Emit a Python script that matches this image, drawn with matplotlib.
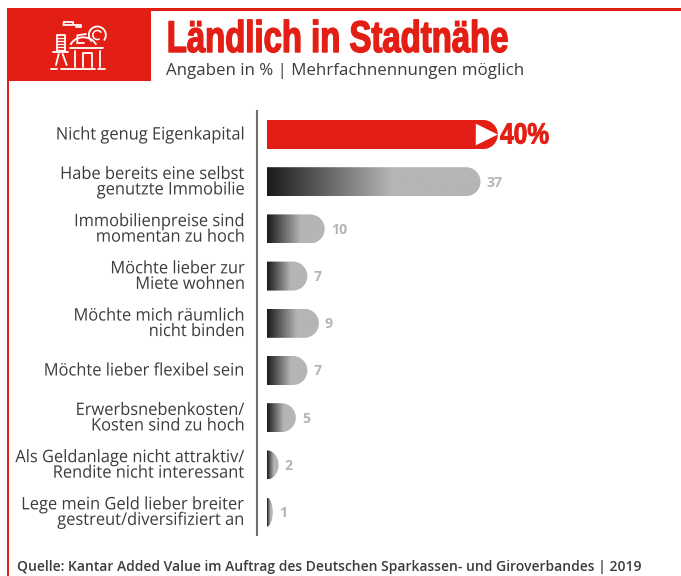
import numpy as np
import matplotlib
matplotlib.use("Agg")
import matplotlib.pyplot as plt
from matplotlib.path import Path
from matplotlib.patches import PathPatch, Rectangle, Polygon, Arc
from matplotlib.patheffects import AbstractPathEffect
from matplotlib.transforms import Affine2D

categories = ["Nicht genug Eigenkapital",
              "Habe bereits eine selbst\ngenutzte Immobilie",
              "Immobilienpreise sind\nmomentan zu hoch",
              "Möchte lieber zur\nMiete wohnen",
              "Möchte mich räumlich\nnicht binden",
              "Möchte lieber flexibel sein",
              "Erwerbsnebenkosten/\nKosten sind zu hoch",
              "Als Geldanlage nicht attraktiv/\nRendite nicht interessant",
              "Lege mein Geld lieber breiter\ngestreut/diversifiziert an"]
values = [40, 37, 10, 7, 9, 7, 5, 2, 1]
title = "Ländlich in Stadtnähe"
subtitle = "Angaben in % | Mehrfachnennungen möglich"
source = "Quelle: Kantar Added Value im Auftrag des Deutschen Sparkassen- und Giroverbandes | 2019"

RED = "#e31e14"
DARK = "#1a1a1a"
GREY = "#b5b6b4"
TXT = "#3c3c3b"
W, H = 681, 576
PX_PER_UNIT = 5.77
ROW = 47.2
Y0 = 134.5
BAR_PX = 29.0
RAD_PX = 14.5


class Squeeze(AbstractPathEffect):
    """Condense real text horizontally about a fixed pixel column, optionally emboldened."""
    def __init__(self, sx, x0, stroke=0.0):
        super().__init__()
        self.sx, self.x0, self.stroke = sx, x0, stroke

    def draw_path(self, renderer, gc, tpath, affine, rgbFace=None):
        t = affine + Affine2D().translate(-self.x0, 0).scale(self.sx, 1).translate(self.x0, 0)
        gc0 = renderer.new_gc()
        gc0.copy_properties(gc)
        if self.stroke:
            gc0.set_linewidth(self.stroke)
            gc0.set_foreground(rgbFace)
        renderer.draw_path(gc0, tpath, t, rgbFace)
        gc0.restore()


fig = plt.figure(figsize=(W / 100, H / 100), dpi=100, facecolor="white")

bg = fig.add_axes([0, 0, 1, 1], zorder=0)
bg.set_xlim(0, W); bg.set_ylim(H, 0); bg.axis("off")
bg.add_patch(Rectangle((6.5, 8), W - 6.5, 2.6, color=RED, lw=0))
bg.add_patch(Rectangle((6.5, 8), 2.6, H - 8, color=RED, lw=0))
bg.add_patch(Rectangle((6.5, 8), 144.5, 73, color=RED, lw=0))
bg.plot([256.5, 256.5], [110, 536], color="#6f6f6e", lw=1.5, solid_capstyle="butt")


def ipt(x, y):
    return 40 + x / 3, 10 + y / 3


icon_lines = [
    [(33, 177), (50, 177)], [(62, 177), (165, 177)], [(175, 177), (195, 177)],
    [(105, 122), (105, 170)], [(180, 122), (180, 170)],
    [(128, 170), (128, 130), (155, 130), (155, 170)],
    [(90, 115), (190, 115)],
    [(50, 125), (50, 75), (75, 75), (75, 125)],
    [(40, 127), (85, 127)],
    [(56, 132), (48, 165)], [(68, 132), (80, 165)],
    [(72, 35), (100, 35), (100, 45), (123, 45), (123, 52), (108, 52)],
    [(72, 35), (70, 45), (95, 45)],
    [(112, 98), (112, 76), (138, 72)],
    [(112, 98), (132, 98)],
]
for ln in icon_lines:
    pts = np.array([ipt(*p) for p in ln])
    bg.plot(pts[:, 0], pts[:, 1], color="white", lw=1.3, solid_capstyle="round", solid_joinstyle="round")
for yy in range(85, 122, 9):
    pts = np.array([ipt(54, yy), ipt(71, yy)])
    bg.plot(pts[:, 0], pts[:, 1], color="white", lw=0.9)
cx, cy = ipt(172, 75)
bg.add_patch(Arc((cx, cy), 17, 17, theta1=130, theta2=400, ec="white", lw=1.3))
bg.add_patch(Arc((cx, cy), 9, 9, theta1=60, theta2=330, ec="white", lw=1.1))
cx, cy = ipt(130, 115)
bg.add_patch(Arc((cx, cy), 27, 22, theta1=195, theta2=345, ec="white", lw=1.3))

NARROW = "Liberation Sans"
bg.text(166.5, 52, title, family=NARROW, weight="bold", fontsize=32, color=RED,
        va="baseline", ha="left", path_effects=[Squeeze(0.74, 167.5, stroke=1.0)])
bg.text(166.5, 71, subtitle, family="Open Sans", fontsize=12.2, color=TXT, va="center", ha="left")
bg.text(17, 567.5, source, family="Open Sans", weight="semibold", fontsize=10.0, color=TXT,
        va="center", ha="left")

left_px = 267
ax_w_px = 400
top_px, bot_px = 110, 536
ax = fig.add_axes([left_px / W, 1 - bot_px / H, ax_w_px / W, (bot_px - top_px) / H], zorder=1)
ax.patch.set_alpha(0)
XLIM = (0, ax_w_px / PX_PER_UNIT)
YLIM = ((bot_px - Y0) / ROW, (top_px - Y0) / ROW)
ax.axis("off")

bar_h = BAR_PX / ROW


def bar_path(i, v):
    rx = min(RAD_PX / PX_PER_UNIT, v)
    ry = bar_h / 2
    k = 0.5523
    t, b = i - ry, i + ry
    s = v - rx
    verts = [(0, t), (s, t),
             (s + k * rx, t), (v, i - k * ry), (v, i),
             (v, i + k * ry), (s + k * rx, b), (s, b),
             (0, b), (0, t)]
    codes = [Path.MOVETO, Path.LINETO, Path.CURVE4, Path.CURVE4, Path.CURVE4,
             Path.CURVE4, Path.CURVE4, Path.CURVE4, Path.LINETO, Path.CLOSEPOLY]
    return Path(verts, codes)


c0 = np.array(matplotlib.colors.to_rgb(DARK))
c1 = np.array(matplotlib.colors.to_rgb(GREY))
for i, (cat, v) in enumerate(zip(categories, values)):
    bg.text(245.5, Y0 + i * ROW + 1, cat, family="Open Sans", fontsize=12.4, color=TXT,
            ha="right", va="center", multialignment="right", linespacing=0.96,
            path_effects=[Squeeze(0.955, 245.5)])
    p = bar_path(i, v)
    if i == 0:
        ax.add_patch(PathPatch(p, fc=RED, ec="none"))
        ax.add_patch(Polygon([(v - 22 / PX_PER_UNIT, i - 10.8 / ROW),
                              (v, i), (v - 22 / PX_PER_UNIT, i + 10.8 / ROW)],
                             fc="white", ec="none"))
        bg.text(500, Y0 + 1, f"{v}%", family=NARROW, weight="bold", fontsize=21, color=RED,
                ha="left", va="center", path_effects=[Squeeze(0.84, 500.5, stroke=0.7)])
    else:
        t = np.clip(np.linspace(0, 1, 256) / 0.58, 0, 1)
        grad = (c0[None, :] * (1 - t)[:, None] + c1[None, :] * t[:, None])[None, :, :]
        im = ax.imshow(grad, extent=(0, v, i + bar_h / 2, i - bar_h / 2),
                       aspect="auto", interpolation="bilinear")
        patch = PathPatch(p, fc="none", ec="none")
        ax.add_patch(patch)
        im.set_clip_path(patch)
        ax.annotate(str(v), (v, i), xytext=(4.3, -0.7), textcoords="offset points",
                    family="Open Sans", weight="bold", fontsize=10.2, color=GREY,
                    ha="left", va="center")

ax.set_xlim(*XLIM)
ax.set_ylim(*YLIM)
fig.savefig("out.png", dpi=100)
